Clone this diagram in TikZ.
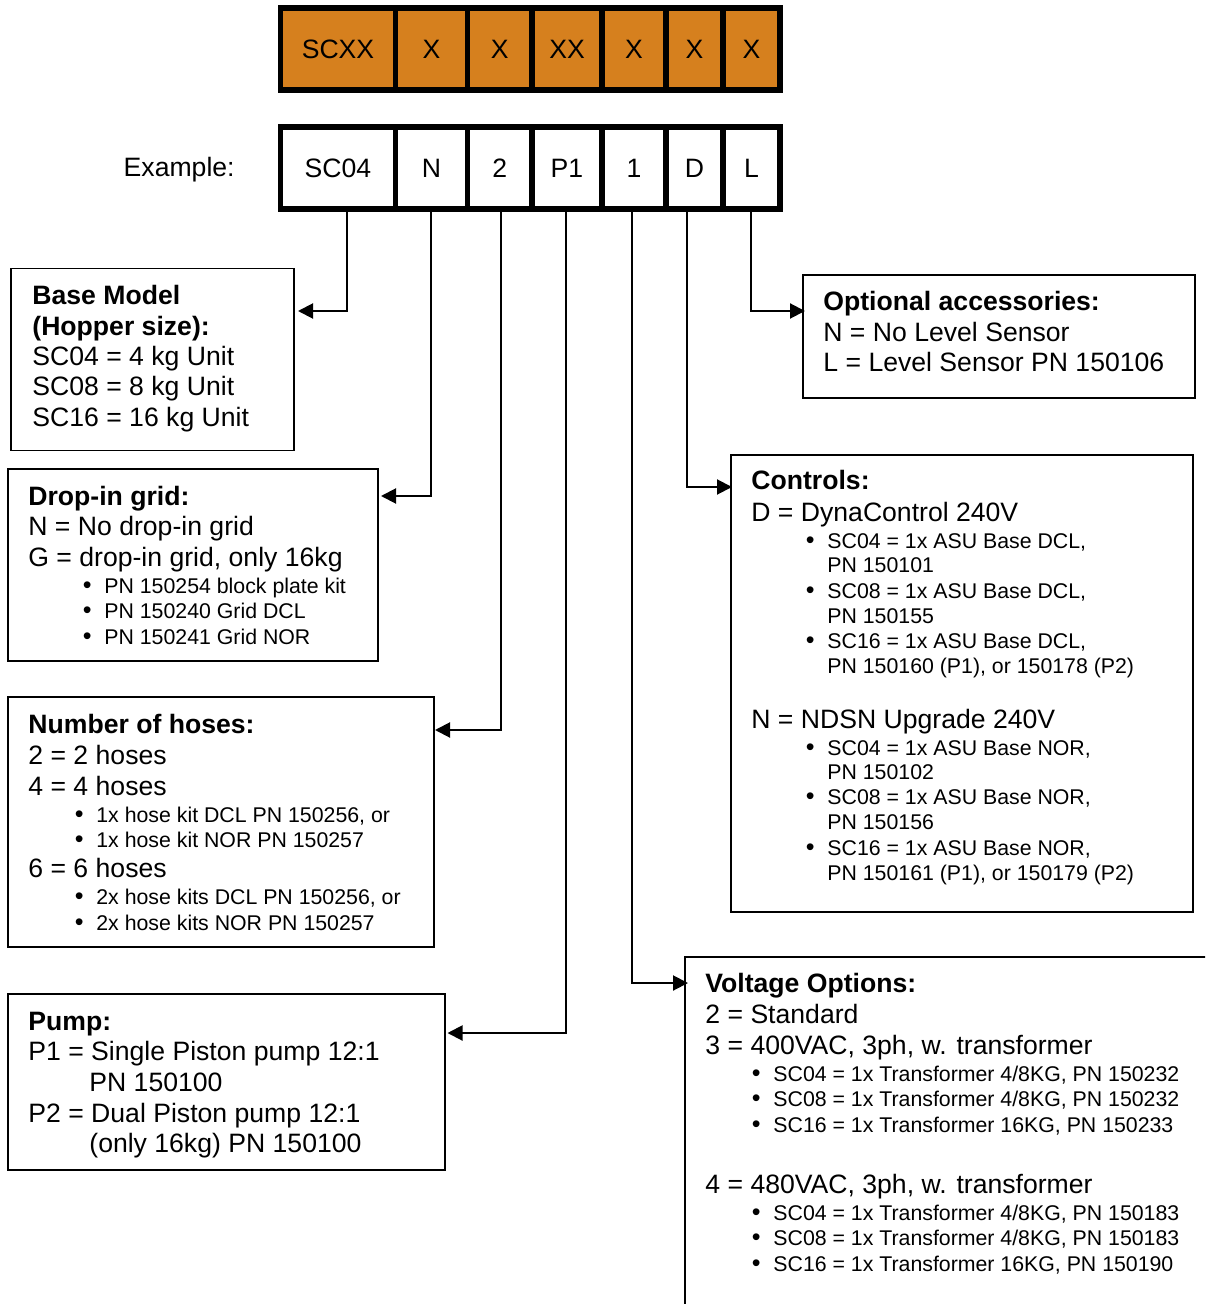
\documentclass[tikz,border=0pt]{standalone}
\usepackage{fontspec}
\setmainfont{Liberation Sans}
\usetikzlibrary{arrows.meta}
\definecolor{codeorange}{RGB}{214,128,30}
\newcommand\BigF{\fontsize{13.3pt}{15pt}\selectfont}
\newcommand\SmF{\fontsize{10.65pt}{12pt}\selectfont}
\newcommand\Bul{\llap{{\fontsize{12.5pt}{12pt}\selectfont\textbullet}\hspace{6.4pt}}}
\begin{document}
\begin{tikzpicture}[x=0.5pt,y=-0.5pt,
  cell/.style={draw=black, line width=2.75pt, minimum height=41pt, inner sep=0pt,
    font=\BigF, text height=9.5pt, text depth=0pt},
  ocell/.style={cell, fill=codeorange},
  wcell/.style={cell, fill=white},
  box/.style={draw=black, line width=0.75pt, outer sep=0pt, inner sep=0pt, anchor=north west},
  tx/.style={font=\BigF, inner sep=0pt, anchor=base west},
  hd/.style={font=\BigF\bfseries, inner sep=0pt, anchor=base west},
  sm/.style={font=\SmF, inner sep=0pt, anchor=base west},
  arr/.style={line width=1pt, -{Triangle[length=7.5pt,width=7.5pt]}}]
\clip (0,0) rectangle (1205,1304);
\useasboundingbox (0,0) rectangle (1205,1304);

% code row
\node[ocell, minimum width=57.5pt] (o1) at (338,49) {SCXX};
\node[ocell, minimum width=36pt] (o2) at (431.5,49) {X};
\node[ocell, minimum width=32.25pt] (o3) at (499.75,49) {X};
\node[ocell, minimum width=35pt] (o4) at (567,49) {XX};
\node[ocell, minimum width=32pt] (o5) at (634,49) {X};
\node[ocell, minimum width=28.5pt] (o6) at (694.5,49) {X};
\node[ocell, minimum width=28.5pt] (o7) at (751.5,49) {X};

% example row
\node[tx, anchor=base east] (ex) at (235,177) {Example:};
\node[wcell, minimum width=57.5pt] (e1) at (338,168) {SC04};
\node[wcell, minimum width=36pt] (e2) at (431.5,168) {N};
\node[wcell, minimum width=32.25pt] (e3) at (499.75,168) {2};
\node[wcell, minimum width=35pt] (e4) at (567,168) {P1};
\node[wcell, minimum width=32pt] (e5) at (634,168) {1};
\node[wcell, minimum width=28.5pt] (e6) at (694.5,168) {D};
\node[wcell, minimum width=28.5pt] (e7) at (751.5,168) {L};

% boxes
\node[box, minimum width=141.5pt, minimum height=91pt] (base) at (11,268.5) {};
\node[box, minimum width=185pt, minimum height=96pt] (drop) at (8,469) {};
\node[box, minimum width=213pt, minimum height=125pt] (hose) at (8,697) {};
\node[box, minimum width=218.5pt, minimum height=88pt] (pump) at (8,994) {};
\node[box, minimum width=196pt, minimum height=61.5pt] (opt) at (803,275) {};
\node[box, minimum width=231pt, minimum height=228.5pt] (ctrl) at (731,455) {};
\node[box, minimum width=300pt, minimum height=200pt] (volt) at (685,957) {};

% connectors
\draw[arr] ([xshift=4.5pt]e1.south) |- ([xshift=2pt,yshift=-21.25pt]base.north east);
\draw[arr] ([xshift=-0.5pt]e2.south) |- ([xshift=1.5pt,yshift=-13.5pt]drop.north east);
\draw[arr] ([xshift=0.6pt]e3.south) |- ([xshift=0.5pt,yshift=-16.5pt]hose.north east);
\draw[arr] ([xshift=-0.75pt]e4.south) |- ([xshift=1.25pt,yshift=-19.5pt]pump.north east);
\draw[arr] ([xshift=-1.25pt]e5.south) |- ([xshift=1.5pt,yshift=-13pt]volt.north west);
\draw[arr] ([xshift=-3.75pt]e6.south) |- ([xshift=0.5pt,yshift=-16pt]ctrl.north west);
\draw[arr] ([xshift=-0.5pt]e7.south) |- ([xshift=1pt,yshift=-18pt]opt.north west);

% base model
\node[hd] (b1) at (32,305) {Base Model};
\node[hd] (b2) at (32,336) {(Hopper size):};
\node[tx] (b3) at (32,366) {SC04 = 4 kg Unit};
\node[tx] (b4) at (32,396) {SC08 = 8 kg Unit};
\node[tx] (b5) at (32,427) {SC16 = 16 kg Unit};

% drop-in grid
\node[hd] (d1) at (28,505.5) {Drop-in grid:};
\node[tx] (d2) at (28,535.5) {N = No drop-in grid};
\node[tx] (d3) at (28,566.5) {G = drop-in grid, only 16kg};
\node[sm] (d4) at (104,593.5) {\Bul PN 150254 block plate kit};
\node[sm] (d5) at (104,618.5) {\Bul PN 150240 Grid DCL};
\node[sm] (d6) at (104,644.5) {\Bul PN 150241 Grid NOR};

% hoses
\node[hd] (h1) at (28,733.5) {Number of hoses:};
\node[tx] (h2) at (28,764.5) {2 = 2 hoses};
\node[tx] (h3) at (28,795.5) {4 = 4 hoses};
\node[sm] (h4) at (96,822.5) {\Bul 1x hose kit DCL PN 150256, or};
\node[sm] (h5) at (96,847.5) {\Bul 1x hose kit NOR PN 150257};
\node[tx] (h6) at (28,877.5) {6 = 6 hoses};
\node[sm] (h7) at (96,904.5) {\Bul 2x hose kits DCL PN 150256, or};
\node[sm] (h8) at (96,930.5) {\Bul 2x hose kits NOR PN 150257};

% pump
\node[hd] (p1) at (28,1030.5) {Pump:};
\node[tx] (p2) at (28,1060.5) {P1 = Single Piston pump 12:1};
\node[tx] (p3) at (89,1091.5) {PN 150100};
\node[tx] (p4) at (28,1122.5) {P2 = Dual Piston pump 12:1};
\node[tx] (p5) at (89,1152.5) {(only 16kg) PN 150100};

% optional accessories
\node[hd] (a1) at (823,310.5) {Optional accessories:};
\node[tx] (a2) at (823,341.5) {N = No Level Sensor};
\node[tx] (a3) at (823,371.5) {L = Level Sensor PN 150106};

% controls
\node[hd] (c1) at (751,489) {Controls:};
\node[tx] (c2) at (751,521.5) {D = DynaControl 240V};
\node[sm] (c3) at (827,548.5) {\Bul SC04 = 1x ASU Base DCL,};
\node[sm] (c4) at (827,572.5) {PN 150101};
\node[sm] (c5) at (827,598) {\Bul SC08 = 1x ASU Base DCL,};
\node[sm] (c6) at (827,623) {PN 150155};
\node[sm] (c7) at (827,648) {\Bul SC16 = 1x ASU Base DCL,};
\node[sm] (c8) at (827,673) {PN 150160 (P1), or 150178 (P2)};
\node[tx] (c9) at (751,728.5) {N = NDSN Upgrade 240V};
\node[sm] (c10) at (827,755.5) {\Bul SC04 = 1x ASU Base NOR,};
\node[sm] (c11) at (827,779.5) {PN 150102};
\node[sm] (c12) at (827,804.5) {\Bul SC08 = 1x ASU Base NOR,};
\node[sm] (c13) at (827,829.5) {PN 150156};
\node[sm] (c14) at (827,855) {\Bul SC16 = 1x ASU Base NOR,};
\node[sm] (c15) at (827,880) {PN 150161 (P1), or 150179 (P2)};

% voltage
\node[hd] (v1) at (705,992.5) {Voltage Options:};
\node[tx] (v2) at (705,1023.5) {2 = Standard};
\node[tx] (v3) at (705,1054.5) {3 = 400VAC, 3ph, w. transformer};
\node[sm] (v4) at (773,1081) {\Bul SC04 = 1x Transformer 4/8KG, PN 150232};
\node[sm] (v5) at (773,1106.5) {\Bul SC08 = 1x Transformer 4/8KG, PN 150232};
\node[sm] (v6) at (773,1132) {\Bul SC16 = 1x Transformer 16KG, PN 150233};
\node[tx] (v7) at (705,1193.5) {4 = 480VAC, 3ph, w. transformer};
\node[sm] (v8) at (773,1220) {\Bul SC04 = 1x Transformer 4/8KG, PN 150183};
\node[sm] (v9) at (773,1245.5) {\Bul SC08 = 1x Transformer 4/8KG, PN 150183};
\node[sm] (v10) at (773,1271) {\Bul SC16 = 1x Transformer 16KG, PN 150190};
\end{tikzpicture}
\end{document}
